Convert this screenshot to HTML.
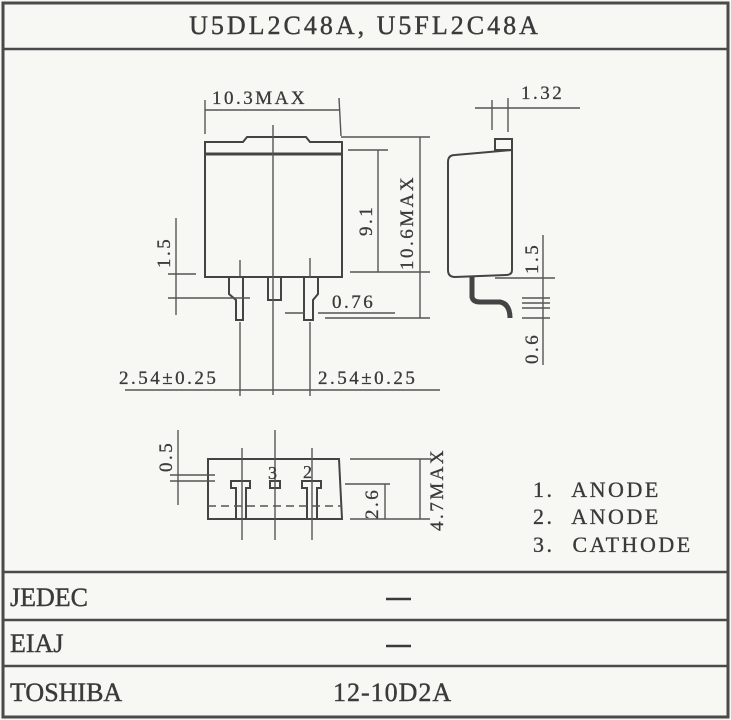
<!DOCTYPE html>
<html><head><meta charset="utf-8"><style>
html,body{margin:0;padding:0;background:#f7f7f4;}
svg{display:block;font-family:"Liberation Serif",serif;}
</style></head><body>
<svg width="731" height="720" viewBox="0 0 731 720" xmlns="http://www.w3.org/2000/svg">
<rect x="0" y="0" width="731" height="720" fill="#f7f7f4"/>
<g stroke="#4a4a4a" fill="none">
<rect x="3" y="3" width="725" height="714" stroke-width="3"/>
<line x1="3" y1="49" x2="728" y2="49" stroke-width="2.5"/>
<line x1="3" y1="572" x2="728" y2="572" stroke-width="2.5"/>
<line x1="3" y1="620" x2="728" y2="620" stroke-width="2.5"/>
<line x1="3" y1="666" x2="728" y2="666" stroke-width="2.5"/>
</g>
<g fill="#3a3a3a" font-size="26" stroke="#3a3a3a" stroke-width="0.4">
<text x="365" y="34" text-anchor="middle" letter-spacing="3">U5DL2C48A, U5FL2C48A</text>
<text x="10" y="606">JEDEC</text>
<text x="10" y="652">EIAJ</text>
<text x="10" y="701">TOSHIBA</text>
<text x="333" y="701" letter-spacing="1">12-10D2A</text>
</g>
<g stroke="#3a3a3a" stroke-width="2.5"><line x1="386" y1="599" x2="411" y2="599"/><line x1="386" y1="646" x2="411" y2="646"/></g>
<g fill="#3a3a3a" font-size="22" letter-spacing="2.5" word-spacing="10" stroke="#3a3a3a" stroke-width="0.3">
<text x="533" y="497">1. ANODE</text>
<text x="533" y="524">2. ANODE</text>
<text x="533" y="552">3. CATHODE</text>
</g>

<!-- front view -->
<g stroke="#444" fill="none" stroke-width="2">
<path d="M205 277 V142 H243 L247 137 H306 L310 142 H342 V277 Z"/>
<line x1="206" y1="154" x2="341" y2="154" stroke-width="3"/>
<path d="M229 277 V294 L236 300 V320 H243 V277"/>
<path d="M268 277 V300 H281 V277"/>
<path d="M304 277 V320 H313 V300 L318 294 V277"/>
</g>
<g stroke="#555" fill="none" stroke-width="1.4">
<line x1="273" y1="125" x2="273" y2="395"/>
<line x1="205" y1="100" x2="205" y2="134"/><line x1="339" y1="98" x2="341" y2="136"/>
<line x1="205" y1="110" x2="339" y2="110"/>
<line x1="341" y1="137" x2="430" y2="137"/>
<line x1="348" y1="150" x2="388" y2="150"/>
<line x1="350" y1="272" x2="430" y2="272"/>
<line x1="325" y1="318" x2="430" y2="318"/>
<line x1="378" y1="150" x2="378" y2="272"/>
<line x1="420" y1="137" x2="420" y2="318"/>
<line x1="176" y1="218" x2="176" y2="315"/>
<line x1="168" y1="274" x2="196" y2="274"/>
<line x1="168" y1="298" x2="250" y2="298"/>
<line x1="285" y1="313" x2="305" y2="313"/><line x1="318" y1="313" x2="395" y2="313"/>
<line x1="125" y1="390" x2="440" y2="390"/>
<line x1="240" y1="322" x2="240" y2="396"/><line x1="310" y1="322" x2="310" y2="396"/>
<line x1="240" y1="260" x2="240" y2="277"/><line x1="310" y1="258" x2="310" y2="277"/>
</g>
<g fill="#3a3a3a" font-size="19" letter-spacing="2.5" stroke="#3a3a3a" stroke-width="0.3">
<text x="212" y="104">10.3MAX</text>
<text x="332" y="308">0.76</text>
<text x="119" y="384">2.54±0.25</text>
<text x="318" y="384">2.54±0.25</text>
<text transform="translate(372,236) rotate(-90)">9.1</text>
<text transform="translate(413,270) rotate(-90)">10.6MAX</text>
<text transform="translate(170,268) rotate(-90)">1.5</text>
</g>

<!-- side view -->
<g stroke="#444" fill="none" stroke-width="2">
<path d="M455 155 L512 150 V270 Q512 275 506 275 L455 277 Q448 277 448 270 V162 Q448 155 455 155 Z"/>
<rect x="495" y="139" width="17" height="11"/>
<path d="M472 277 V297 Q473 302 480 302 H500 Q510 304 510 318" stroke-width="5"/>
</g>
<g stroke="#555" fill="none" stroke-width="1.4">
<line x1="475" y1="108" x2="580" y2="108"/>
<line x1="492" y1="100" x2="492" y2="130"/><line x1="508" y1="98" x2="508" y2="132"/>
<line x1="543" y1="235" x2="543" y2="365"/>
<line x1="495" y1="278" x2="555" y2="278"/>
<line x1="522" y1="298" x2="550" y2="298"/>
<line x1="522" y1="303" x2="550" y2="303"/>
<line x1="522" y1="308" x2="550" y2="308"/>
<line x1="522" y1="318" x2="550" y2="318"/>
</g>
<g fill="#3a3a3a" font-size="19" letter-spacing="2.5" stroke="#3a3a3a" stroke-width="0.3">
<text x="521" y="99">1.32</text>
<text transform="translate(538,274) rotate(-90)">1.5</text>
<text transform="translate(538,364) rotate(-90)">0.6</text>
</g>

<!-- bottom view -->
<g stroke="#444" fill="none" stroke-width="2">
<path d="M208 459 H339 L342 519 H208 Z"/>
<path d="M231 488 V481 H250 V488 H246 V519 H236 V488 Z"/>
<path d="M302 488 V481 H321 V488 H317 V519 H307 V488 Z"/>
<rect x="270" y="481" width="10" height="7"/>
</g>
<g stroke="#555" fill="none" stroke-width="1.4">
<line x1="275" y1="430" x2="275" y2="540"/>
<line x1="242" y1="448" x2="242" y2="540"/>
<line x1="312" y1="448" x2="312" y2="540"/>
<line x1="208" y1="506" x2="342" y2="506" stroke-dasharray="8,5"/>
<line x1="345" y1="484" x2="390" y2="484"/>
<line x1="350" y1="459" x2="430" y2="459"/>
<line x1="350" y1="519" x2="430" y2="519"/>
<line x1="385" y1="484" x2="385" y2="519"/>
<line x1="420" y1="459" x2="420" y2="519"/>
<line x1="178" y1="430" x2="178" y2="505"/>
<line x1="170" y1="475" x2="215" y2="475"/>
<line x1="170" y1="481" x2="215" y2="481"/>
</g>
<g fill="#3a3a3a" font-size="18" stroke="#3a3a3a" stroke-width="0.3">
<text x="268" y="479">3</text><text x="303" y="478">2</text>
</g>
<g fill="#3a3a3a" font-size="19" letter-spacing="2.5" stroke="#3a3a3a" stroke-width="0.3">
<text transform="translate(172,472) rotate(-90)">0.5</text>
<text transform="translate(378,519) rotate(-90)">2.6</text>
<text transform="translate(443,531) rotate(-90)">4.7MAX</text>
</g>
</svg>
</body></html>
